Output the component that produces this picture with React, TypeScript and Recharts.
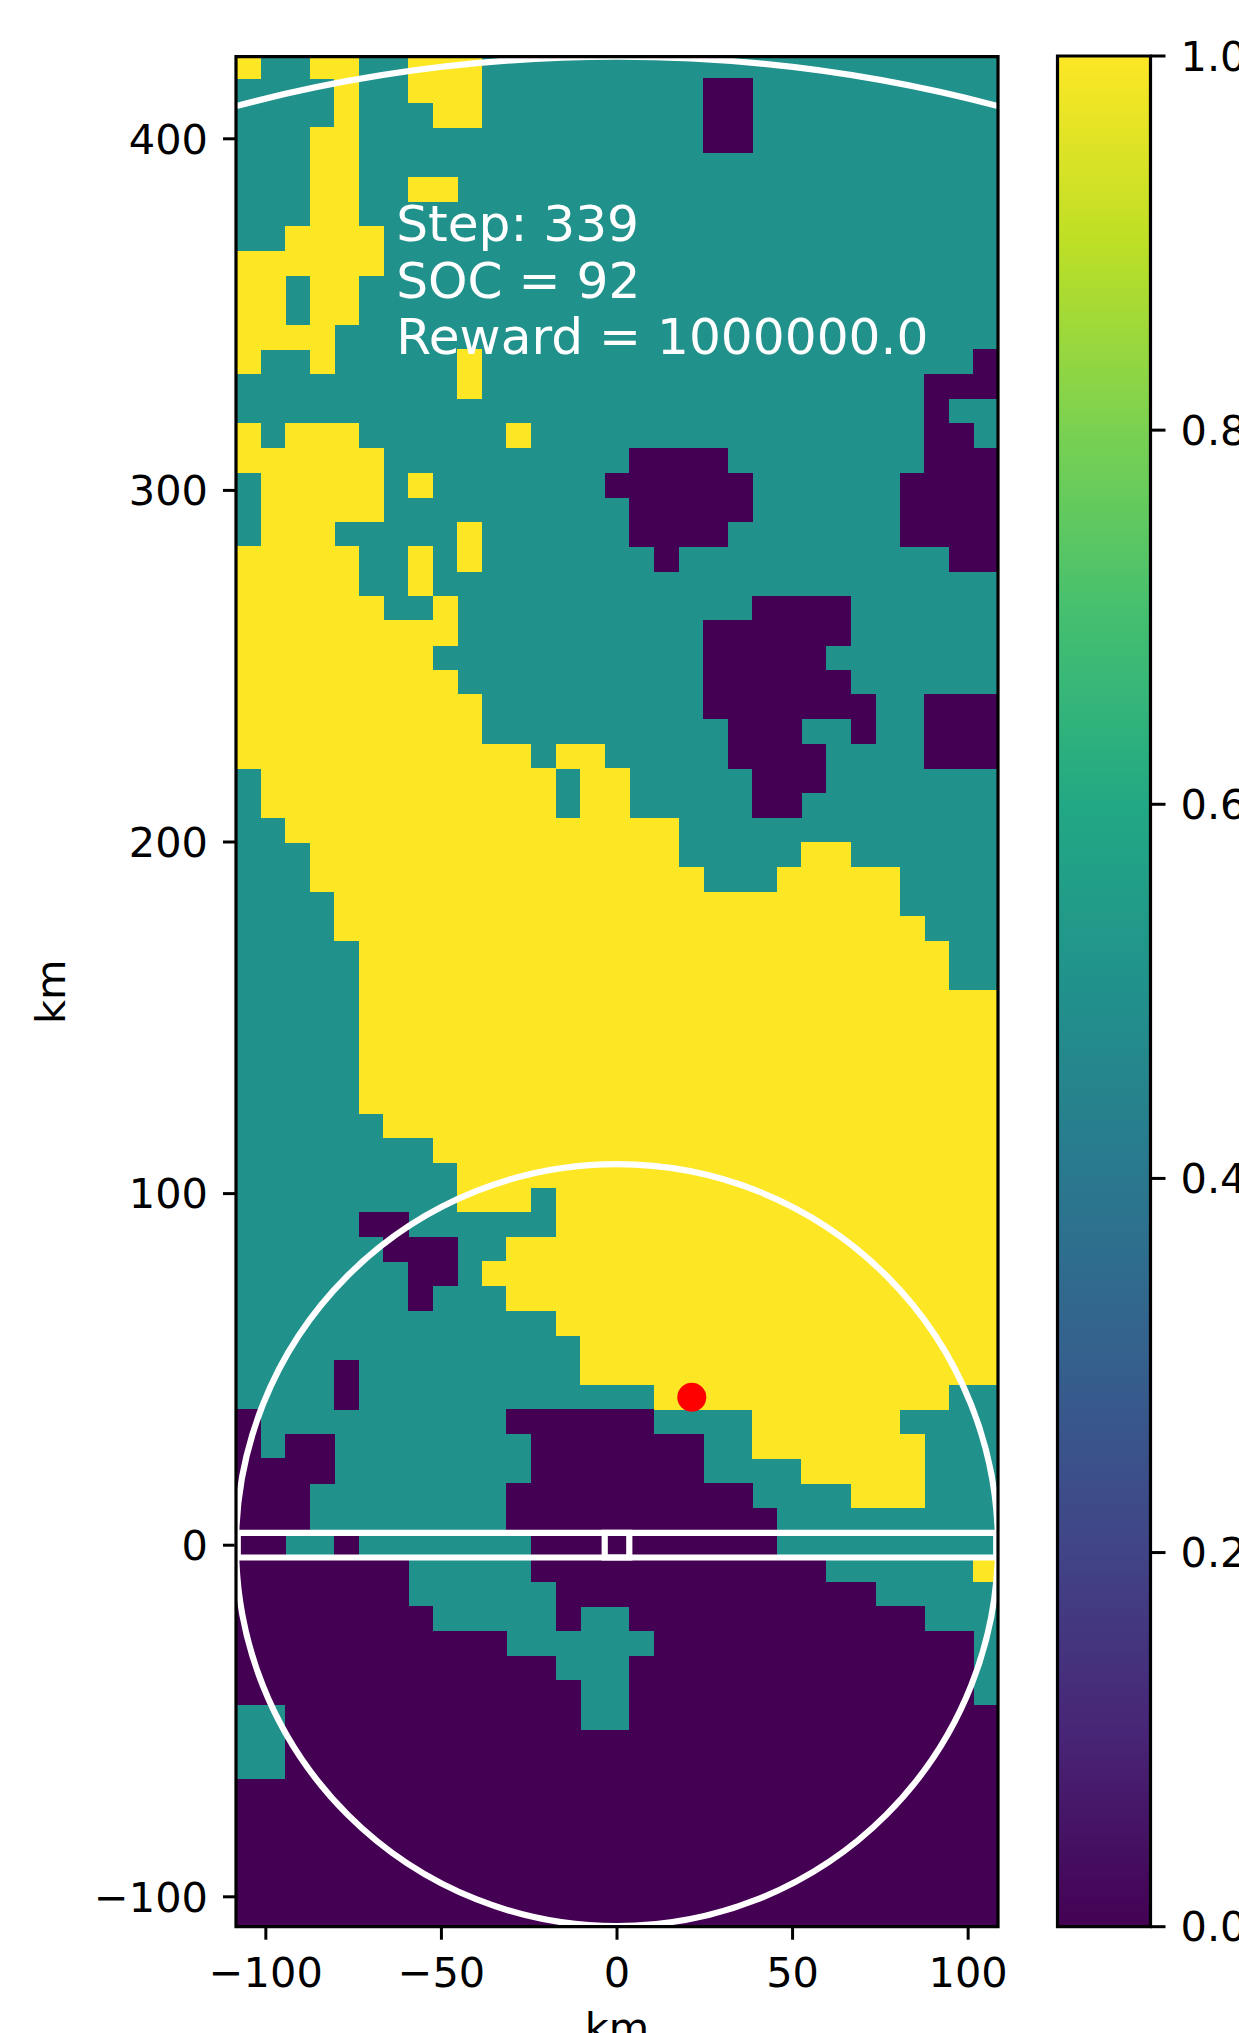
import {
  Bar,
  BarChart,
  ReferenceArea,
  ReferenceDot,
  Scatter,
  ScatterChart,
  XAxis,
  YAxis,
} from "recharts";

const FONT = "'DejaVu Sans', sans-serif";
const TICK_SIZE = 41.5;

// grid cells are about 7 km wide, 31 columns by 76 rows, row 0 at the top
const columnCount = 31;
const rowCount = 76;

// [row, first column, last column] for runs valued 1.0
const highRuns = [
  [0, 0, 0], [0, 3, 4], [0, 7, 9],
  [1, 4, 4], [1, 7, 9],
  [2, 4, 4], [2, 8, 9],
  [3, 3, 4], [4, 3, 4],
  [5, 3, 4], [5, 7, 8],
  [6, 3, 4], [7, 2, 5], [8, 0, 5],
  [9, 0, 1], [9, 3, 4],
  [10, 0, 1], [10, 3, 4],
  [11, 0, 3],
  [12, 0, 0], [12, 3, 3], [12, 9, 9],
  [13, 9, 9],
  [15, 0, 0], [15, 2, 4], [15, 11, 11],
  [16, 0, 5],
  [17, 1, 5], [17, 7, 7],
  [18, 1, 5],
  [19, 1, 3], [19, 9, 9],
  [20, 0, 4], [20, 7, 7], [20, 9, 9],
  [21, 0, 4], [21, 7, 7],
  [22, 0, 5], [22, 8, 8],
  [23, 0, 8], [24, 0, 7], [25, 0, 8], [26, 0, 9], [27, 0, 9],
  [28, 0, 11], [28, 13, 14],
  [29, 1, 12], [29, 14, 15],
  [30, 1, 12], [30, 14, 15],
  [31, 2, 17],
  [32, 3, 17], [32, 23, 24],
  [33, 3, 18], [33, 22, 26],
  [34, 4, 26], [35, 4, 27], [36, 5, 28], [37, 5, 28],
  [38, 5, 30], [39, 5, 30], [40, 5, 30], [41, 5, 30], [42, 5, 30],
  [43, 6, 30], [44, 8, 30], [45, 9, 30],
  [46, 9, 11], [46, 13, 30],
  [47, 13, 30], [48, 11, 30], [49, 10, 30], [50, 11, 30], [51, 13, 30],
  [52, 14, 30], [53, 14, 30], [54, 17, 28], [55, 21, 26], [56, 21, 27],
  [57, 23, 27], [58, 25, 27], [61, 30, 30],
];

// same, for runs valued 0.0; everything not listed is 0.5
const lowRuns = [
  [1, 19, 20], [2, 19, 20], [3, 19, 20],
  [12, 30, 30], [13, 28, 30], [14, 28, 28], [15, 28, 29],
  [16, 16, 19], [16, 28, 30],
  [17, 15, 20], [17, 27, 30],
  [18, 16, 20], [18, 27, 30],
  [19, 16, 19], [19, 27, 30],
  [20, 17, 17], [20, 29, 30],
  [22, 21, 24], [23, 19, 24], [24, 19, 23], [25, 19, 24],
  [26, 19, 25], [26, 28, 30],
  [27, 20, 22], [27, 25, 25], [27, 28, 30],
  [28, 20, 23], [28, 28, 30],
  [29, 21, 23], [30, 21, 22],
  [47, 5, 6], [48, 6, 8], [49, 7, 8], [50, 7, 7],
  [53, 4, 4], [54, 4, 4],
  [55, 0, 0], [55, 11, 16],
  [56, 0, 0], [56, 2, 3], [56, 12, 18],
  [57, 0, 3], [57, 12, 18],
  [58, 0, 2], [58, 11, 20],
  [59, 0, 2], [59, 11, 21],
  [60, 0, 1], [60, 4, 4], [60, 12, 21],
  [61, 0, 6], [61, 12, 23],
  [62, 0, 6], [62, 13, 25],
  [63, 0, 7], [63, 13, 13], [63, 16, 27],
  [64, 0, 10], [64, 17, 29],
  [65, 0, 12], [65, 16, 29],
  [66, 0, 13], [66, 16, 29],
  [67, 2, 13], [67, 16, 30],
  [68, 2, 30], [69, 2, 30],
  [70, 0, 30], [71, 0, 30], [72, 0, 30], [73, 0, 30], [74, 0, 30], [75, 0, 30],
];

const xTicks = [-100, -50, 0, 50, 100];
const yTicks = [-100, 0, 100, 200, 300, 400];
const barTicks = [0, 0.2, 0.4, 0.6, 0.8, 1];
const viridisStops = [
  "#fde725", "#bddf26", "#7ad151", "#44bf70", "#22a884", "#21918c",
  "#2a788e", "#355f8d", "#414487", "#482475", "#440154",
];
const notes = [
  { x: -62.9, y: 370.9, text: "Step: 339" },
  { x: -62.9, y: 354.8, text: "SOC = 92" },
  { x: -62.9, y: 338.8, text: "Reward = 1000000.0" },
];
const vehicle = [{ x: 21.3, y: 42.1 }];

const PLOT_LEFT = 236;
const PLOT_RIGHT = 998;
const PLOT_TOP = 56.7;
const PLOT_BOTTOM = 1926.7;
const CHART_H = 2075;
const CELL_W = (PLOT_RIGHT - PLOT_LEFT) / columnCount;
const CELL_H = 24.645;
const RING_W = 6.2;

function inRun(runs: number[][], row: number, col: number) {
  return runs.some((r) => r[0] === row && col >= r[1] && col <= r[2]);
}

const highCells: { x: number; y: number }[] = [];
const midCells: { x: number; y: number }[] = [];
const lowCells: { x: number; y: number }[] = [];
for (let row = 0; row < rowCount; row++) {
  for (let col = 0; col < columnCount; col++) {
    const cell = { x: -105 + 7 * col, y: -108.5 + 7.01 * (75.5 - row) };
    if (inRun(highRuns, row, col)) highCells.push(cell);
    else if (inRun(lowRuns, row, col)) lowCells.push(cell);
    else midCells.push(cell);
  }
}

function CellRect({ cx, cy, fill }: any) {
  const top = Math.max(cy - CELL_H / 2, PLOT_TOP);
  return (
    <rect
      x={cx - CELL_W / 2}
      y={top}
      width={CELL_W + 0.5}
      height={cy + CELL_H / 2 - top + 0.5}
      fill={fill}
      shapeRendering="crispEdges"
    />
  );
}

function NoteText({ cx, cy, text }: any) {
  return (
    <text x={cx} y={cy} fill="#fff" fontFamily={FONT} fontSize={50.2}>
      {text}
    </text>
  );
}

function VehicleDot({ cx, cy }: any) {
  return <circle cx={cx} cy={cy} r={14.5} fill="#ff0000" />;
}

const minus = (v: number) => String(v).replace("-", "\u2212");
const tickStyle = { fontFamily: FONT, fontSize: TICK_SIZE, fill: "#000" };
const tickLine = { stroke: "#000", strokeWidth: 3 };

export default function App() {
  return (
    <div
      style={{
        position: "absolute",
        left: 0,
        top: 0,
        width: 1239,
        height: 2033,
        overflow: "hidden",
        background: "#fff",
      }}
    >
      <div style={{ position: "absolute", left: 0, top: 0 }}>
        <ScatterChart
          width={1239}
          height={CHART_H}
          margin={{ top: PLOT_TOP, right: 1239 - PLOT_RIGHT, bottom: 0, left: 0 }}
        >
          <XAxis
            type="number"
            dataKey="x"
            domain={[-108.5, 108.5]}
            ticks={xTicks}
            interval={0}
            allowDataOverflow
            tickFormatter={minus}
            tick={tickStyle}
            tickSize={13}
            tickMargin={18}
            tickLine={tickLine}
            axisLine={false}
            height={CHART_H - PLOT_BOTTOM}
            label={{
              value: "km",
              position: "insideTop",
              offset: 86,
              style: tickStyle,
            }}
          />
          <YAxis
            type="number"
            dataKey="y"
            domain={[-108.5, 423.35]}
            ticks={yTicks}
            interval={0}
            allowDataOverflow
            tickFormatter={minus}
            tick={tickStyle}
            tickSize={13}
            tickMargin={15}
            tickLine={tickLine}
            axisLine={false}
            width={PLOT_LEFT}
            label={{
              value: "km",
              angle: -90,
              position: "insideLeft",
              offset: 50,
              style: { ...tickStyle, textAnchor: "middle" },
            }}
          />
          <Scatter data={midCells} fill="#21918c" shape={CellRect} isAnimationActive={false} />
          <Scatter data={highCells} fill="#fde725" shape={CellRect} isAnimationActive={false} />
          <Scatter data={lowCells} fill="#440154" shape={CellRect} isAnimationActive={false} />
          <ReferenceArea
            x1={-108}
            x2={108}
            y1={-3.5}
            y2={3.5}
            fill="none"
            stroke="#fff"
            strokeWidth={RING_W}
            ifOverflow="visible"
            zIndex={700}
          />
          <ReferenceArea
            x1={-3.5}
            x2={3.5}
            y1={-3.5}
            y2={3.5}
            fill="none"
            stroke="#fff"
            strokeWidth={RING_W}
            ifOverflow="visible"
            zIndex={700}
          />
          <ReferenceDot x={0} y={0} r={381} fill="none" stroke="#fff" strokeWidth={RING_W} ifOverflow="hidden" zIndex={700} />
          <ReferenceDot x={0} y={0} r={1488.5} fill="none" stroke="#fff" strokeWidth={RING_W} ifOverflow="hidden" zIndex={700} />
          <Scatter data={vehicle} shape={VehicleDot} isAnimationActive={false} zIndex={800} />
          <Scatter data={notes} shape={NoteText} isAnimationActive={false} zIndex={800} />
          <ReferenceArea
            x1={-108.5}
            x2={108.5}
            y1={-108.5}
            y2={423.35}
            fill="none"
            stroke="#000"
            strokeWidth={3.2}
            ifOverflow="visible"
            zIndex={900}
          />
        </ScatterChart>
      </div>
      <div style={{ position: "absolute", left: 1040, top: 0 }}>
        <BarChart
          width={300}
          height={CHART_H}
          data={[{ name: "scale", top: 1 }]}
          barCategoryGap={0}
          margin={{ top: 56, right: 0, bottom: CHART_H - PLOT_BOTTOM, left: 17.5 }}
        >
          <defs>
            <linearGradient id="viridis" x1="0" y1="0" x2="0" y2="1">
              {viridisStops.map((c, i) => (
                <stop key={c} offset={i / (viridisStops.length - 1)} stopColor={c} />
              ))}
            </linearGradient>
          </defs>
          <XAxis dataKey="name" hide />
          <YAxis
            orientation="right"
            domain={[0, 1]}
            ticks={barTicks}
            interval={0}
            tickFormatter={(v: number) => v.toFixed(1)}
            tick={{ ...tickStyle, textAnchor: "start" }}
            tickSize={15}
            tickMargin={15}
            tickLine={tickLine}
            axisLine={false}
            width={189.5}
          />
          <Bar dataKey="top" fill="url(#viridis)" isAnimationActive={false} />
          <ReferenceArea
            y1={0}
            y2={1}
            fill="none"
            stroke="#000"
            strokeWidth={3.2}
            ifOverflow="visible"
            zIndex={900}
          />
        </BarChart>
      </div>
    </div>
  );
}
